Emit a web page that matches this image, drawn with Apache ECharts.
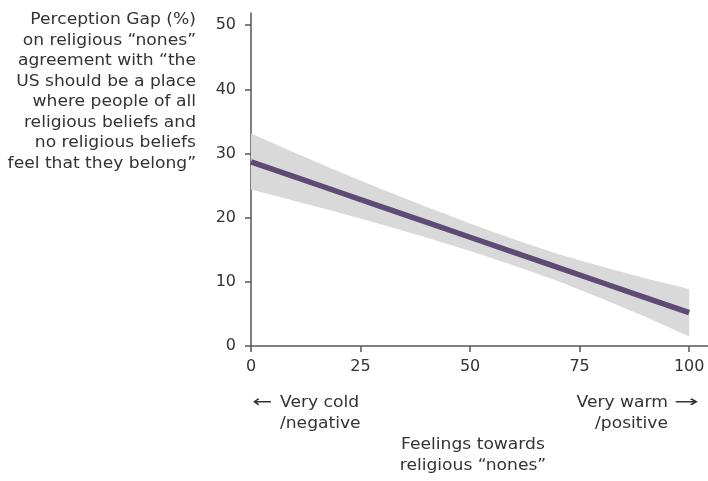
<!DOCTYPE html>
<html>
<head>
<meta charset="utf-8">
<script src="https://cdn.jsdelivr.net/npm/echarts@6/dist/echarts.min.js"></script>
<style>
  html, body { margin: 0; padding: 0; background: #ffffff; }
  #chart { width: 708px; height: 481px; }
</style>
</head>
<body>
<div id="chart"></div>
<script>
// Feeling thermometer values (x) and fitted perception gap with its confidence band
const feelings   = [0, 10, 20, 30, 40, 50, 60, 70, 80, 90, 100];
const fittedGap  = [28.7, 26.35, 24.0, 21.65, 19.3, 16.95, 14.6, 12.25, 9.9, 7.55, 5.2];
const bandLower  = [24.4, 22.6, 20.8, 18.9, 16.9, 14.8, 12.55, 10.15, 7.4, 4.55, 1.5];
const bandUpper  = [33.1, 30.1, 27.2, 24.4, 21.7, 19.1, 16.65, 14.35, 12.4, 10.55, 8.9];

const xTicks = [0, 25, 50, 75, 100];
const yTicks = [0, 10, 20, 30, 40, 50];

const yTitleLines = [
  'Perception Gap (%)',
  'on religious \u201cnones\u201d',
  'agreement with \u201cthe',
  'US should be a place',
  'where people of all',
  'religious beliefs and',
  'no religious beliefs',
  'feel that they belong\u201d'
];

const FONT = '"DejaVu Sans", "Noto Sans", sans-serif';
const FS = 16;
const TEXT = '#333333';
const AXIS = '#555555';

const linePts = feelings.map((x, i) => [x, fittedGap[i]]);

// Confidence band drawn as one polygon: upper edge left→right, lower edge right→left
function renderBand(params, api) {
  const top = feelings.map((x, i) => api.coord([x, bandUpper[i]]));
  const bottom = feelings.map((x, i) => api.coord([x, bandLower[i]])).reverse();
  return {
    type: 'polygon',
    shape: { points: top.concat(bottom) },
    style: { fill: '#d9d9d9' },
    silent: true
  };
}

// Annotation text, slightly widened horizontally around its anchor point
function textEl(text, x, y, align, sx) {
  return {
    type: 'text',
    x: x,
    y: y,
    scaleX: sx || 1.07,
    style: {
      text: text,
      fill: TEXT,
      font: FS + 'px ' + FONT,
      align: align,
      verticalAlign: 'middle'
    }
  };
}

const graphics = yTitleLines.map((t, i) => textEl(t, 196, 20 + i * 20.5, 'right'));
graphics.push(
  textEl('\u2190', 252, 403, 'left', 1.5),
  textEl('Very cold', 280, 403, 'left'),
  textEl('/negative', 280, 424, 'left'),
  textEl('Very warm', 668, 403, 'right'),
  textEl('/positive', 668, 424, 'right'),
  textEl('\u2192', 674, 403, 'left', 1.85),
  textEl('Feelings towards', 473, 445, 'center'),
  textEl('religious \u201cnones\u201d', 473, 466, 'center')
);

const chart = echarts.init(document.getElementById('chart'), null, { renderer: 'canvas' });

chart.setOption({
  animation: false,
  backgroundColor: '#ffffff',
  grid: { left: 251, right: 0, top: 13, bottom: 135, containLabel: false },
  xAxis: {
    type: 'value',
    min: 0,
    max: 104.3,
    axisLine: { show: true, lineStyle: { color: AXIS, width: 1.5 } },
    axisTick: { show: true, length: 6, lineStyle: { color: AXIS, width: 1.5 }, customValues: xTicks },
    axisLabel: { color: TEXT, fontSize: FS, fontFamily: FONT, margin: 13, customValues: xTicks },
    splitLine: { show: false }
  },
  yAxis: {
    type: 'value',
    min: 0,
    max: 51.9,
    axisLine: { show: true, lineStyle: { color: AXIS, width: 1.5 } },
    axisTick: { show: true, length: 6, lineStyle: { color: AXIS, width: 1.5 }, customValues: yTicks },
    axisLabel: { color: TEXT, fontSize: FS, fontFamily: FONT, margin: 15, customValues: yTicks },
    splitLine: { show: false }
  },
  series: [
    {
      type: 'custom',
      renderItem: renderBand,
      data: [[0, 0]],
      encode: { x: 0, y: 1 },
      silent: true,
      z: 1
    },
    {
      type: 'line',
      data: linePts,
      symbol: 'none',
      lineStyle: { color: '#5d4b74', width: 5.5, cap: 'butt' },
      z: 5
    }
  ],
  graphic: graphics
});
</script>
</body>
</html>
